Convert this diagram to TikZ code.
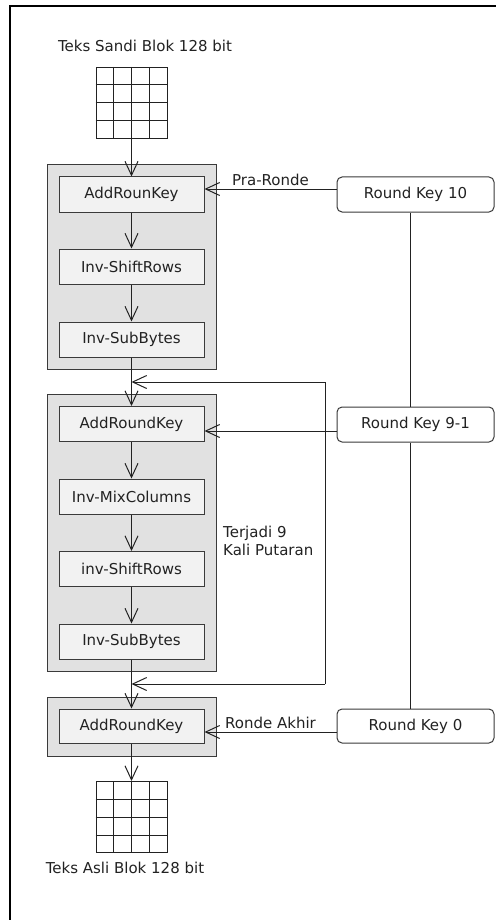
\documentclass[tikz,border=0pt]{standalone}
\usepackage{fontspec}
\setmainfont{DejaVu Sans}
\usetikzlibrary{arrows.meta,calc}
\definecolor{opfill}{HTML}{F2F2F2}
\definecolor{blkfill}{HTML}{E1E1E1}
\definecolor{edge}{HTML}{3A3A3A}
\definecolor{ink}{HTML}{222222}
\tikzset{
  every node/.style={font=\fontsize{15pt}{18pt}\selectfont, text=ink},
  blockbox/.style={draw=edge, fill=blkfill, line width=1pt, minimum width=169pt, inner sep=0pt},
  opbox/.style={draw=edge, fill=opfill, line width=1pt, minimum width=145pt, minimum height=35pt, inner sep=0pt},
  keybox/.style={draw=edge, fill=white, line width=1pt, rounded corners=5pt, minimum width=157pt, minimum height=35pt, inner sep=0pt},
  gridbox/.style={draw=ink, line width=1pt, minimum width=71pt, minimum height=71pt, inner sep=0pt},
  conn/.style={draw=ink, line width=1pt},
  arr/.style={conn, -{Straight Barb[length=14pt,width=13pt,line width=1pt]}},
  lbl/.style={inner sep=0pt}
}
\begin{document}
\begin{tikzpicture}[x=1pt,y=-1pt]
\useasboundingbox (0,0) rectangle (495,920);
\fill[white] (0,0) rectangle (495,920);
% frame (cropped)
\draw[line width=2pt] (10,921) -- (10,6) -- (496,6);

% titles
\node[lbl] (t1) at (145,46) {Teks Sandi Blok 128 bit};
\node[lbl] (t2) at (125,868) {Teks Asli Blok 128 bit};

% grids
\node[gridbox] (g1) at (131.5,103) {};
\node[gridbox] (g2) at (131.5,817) {};
\foreach \g in {g1,g2}{
  \foreach \i in {1,2,3}{
    \draw[conn] ($(\g.north west)!\i/4!(\g.north east)$) -- ($(\g.south west)!\i/4!(\g.south east)$);
    \draw[conn] ($(\g.north west)!\i/4!(\g.south west)$) -- ($(\g.north east)!\i/4!(\g.south east)$);
  }
}

% blocks
\node[blockbox, minimum height=205pt] (b1) at (131.5,267) {};
\node[blockbox, minimum height=277pt] (b2) at (131.5,532.5) {};
\node[blockbox, minimum height=59pt] (b3) at (131.5,726.5) {};

% operations
\node[opbox] (ark1) at (131.5,194.5) {AddRounKey};
\node[opbox] (isr1) at (131.5,266.5) {Inv-ShiftRows};
\node[opbox] (isb1) at (131.5,339.5) {Inv-SubBytes};

\node[opbox] (ark2) at (131.5,424) {AddRoundKey};
\node[opbox] (imc2) at (131.5,496.5) {Inv-MixColumns};
\node[opbox] (isr2) at (131.5,569) {inv-ShiftRows};
\node[opbox] (isb2) at (131.5,641.5) {Inv-SubBytes};

\node[opbox, minimum height=34pt] (ark3) at (131.5,726) {AddRoundKey};

% keys
\node[keybox] (k10) at (415.5,194.5) {Round Key 10};
\node[keybox] (k91) at (415.5,424.5) {Round Key 9-1};
\node[keybox, minimum height=34pt] (k0) at (415.5,726) {Round Key 0};

% main flow
\draw[arr] (g1.south) -- (ark1.north);
\draw[arr] (ark1.south) -- (isr1.north);
\draw[arr] (isr1.south) -- (isb1.north);
\draw[arr] (isb1.south) -- (ark2.north);
\draw[arr] (ark2.south) -- (imc2.north);
\draw[arr] (imc2.south) -- (isr2.north);
\draw[arr] (isr2.south) -- (isb2.north);
\draw[arr] (isb2.south) -- (ark3.north);
\draw[arr] (ark3.south) -- (g2.north);

% loop
\coordinate (fbT) at (325,382);
\coordinate (fbB) at (325,684);
\coordinate (cT) at (131.5,382);
\coordinate (cB) at (131.5,684);
\draw[conn] (fbT) -- (fbB);
\draw[arr] (fbT) -- (cT);
\draw[arr] (fbB) -- (cB);
\node[lbl, anchor=west, align=left] (rep) at (223,541) {Terjadi 9\\Kali Putaran};

% key lines
\draw[conn] ([xshift=-5.5pt]k10.south) -- ([xshift=-5.5pt]k91.north);
\draw[conn] ([xshift=-5.5pt]k91.south) -- ([xshift=-5.5pt]k0.north);

\draw[arr] ([yshift=5.5pt]k10.west) -- ([yshift=5.5pt]k10.west -| ark1.east)
  node[midway, above, inner sep=3pt] {Pra-Ronde};
\draw[arr] ([yshift=-6.5pt]k91.west) -- ([yshift=-6.5pt]k91.west -| ark2.east);
\draw[arr] ([yshift=-6pt]k0.west) -- ([yshift=-6pt]k0.west -| ark3.east)
  node[midway, above, inner sep=3pt] {Ronde Akhir};
\end{tikzpicture}
\end{document}
